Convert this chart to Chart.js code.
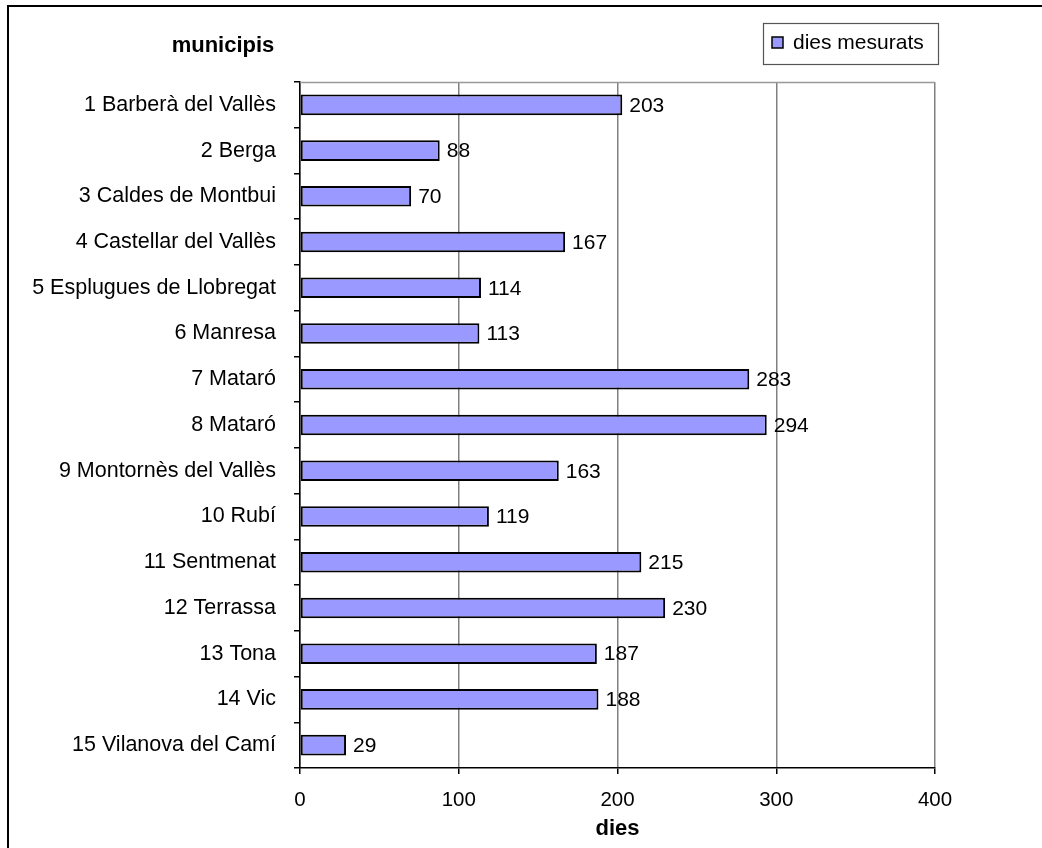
<!DOCTYPE html>
<html>
<head>
<meta charset="utf-8">
<script src="https://cdn.jsdelivr.net/npm/chart.js@4.4.0/dist/chart.umd.min.js"></script>
<style>
  html, body { margin: 0; padding: 0; background: #fff; overflow: hidden; }
  #wrap { position: relative; width: 1042px; height: 848px; }
  #frame { position: absolute; left: 7px; top: 5px; width: 2000px; height: 2000px;
           border-left: 2px solid #000; border-top: 2px solid #000; pointer-events: none; }
</style>
</head>
<body>
<div id="wrap">
  <canvas id="chart"></canvas>
  <div id="frame"></div>
</div>
<script>
// dades
const municipis = [
  '1 Barberà del Vallès', '2 Berga', '3 Caldes de Montbui', '4 Castellar del Vallès',
  '5 Esplugues de Llobregat', '6 Manresa', '7 Mataró', '8 Mataró',
  '9 Montornès del Vallès', '10 Rubí', '11 Sentmenat', '12 Terrassa',
  '13 Tona', '14 Vic', '15 Vilanova del Camí'
];
const diesMesurats = [203, 88, 70, 167, 114, 113, 283, 294, 163, 119, 215, 230, 187, 188, 29];
const xTicks = [0, 100, 200, 300, 400];
const serieLabel = 'dies mesurats';
const yTitle = 'municipis';
const xTitle = 'dies';

const BAR_COLOR = '#9999ff';
const FONT = "'Liberation Sans', Arial, sans-serif";
Chart.defaults.font.family = FONT;

/* ===== plugins ===== */
const extras = {
  id: 'extras',
  beforeDatasetsDraw(chart) {
    // top line of the plot area
    const { ctx, chartArea: a } = chart;
    ctx.save();
    ctx.strokeStyle = '#999';
    ctx.lineWidth = 1.5;
    ctx.beginPath();
    ctx.moveTo(a.left, a.top + 0.5);
    ctx.lineTo(a.right, a.top + 0.5);
    ctx.stroke();
    ctx.restore();
  },
  afterDraw(chart) {
    const { ctx, chartArea: a } = chart;
    ctx.save();
    // value labels
    ctx.fillStyle = '#000';
    ctx.font = '21px ' + FONT;
    ctx.textBaseline = 'middle';
    ctx.textAlign = 'left';
    const meta = chart.getDatasetMeta(0);
    meta.data.forEach((bar, i) => {
      ctx.fillText(String(diesMesurats[i]), bar.x + 7, bar.y + 1);
    });

    // category title on top of the labels
    ctx.font = 'bold 22px ' + FONT;
    ctx.textAlign = 'center';
    ctx.fillText(yTitle, a.left - 77, a.top - 36);

    // legend with frame
    const bx = a.right - 172, by = a.top - 59, bw = 175, bh = 41;
    ctx.fillStyle = '#fff';
    ctx.fillRect(bx, by, bw, bh);
    ctx.strokeStyle = '#555';
    ctx.lineWidth = 1.2;
    ctx.strokeRect(bx + 0.5, by + 0.5, bw, bh);
    ctx.fillStyle = BAR_COLOR;
    ctx.fillRect(bx + 9, by + 14, 11, 11);
    ctx.strokeStyle = '#000';
    ctx.lineWidth = 1.5;
    ctx.strokeRect(bx + 9, by + 14, 11, 11);
    ctx.fillStyle = '#000';
    ctx.font = '21px ' + FONT;
    ctx.textAlign = 'left';
    ctx.textBaseline = 'middle';
    ctx.fillText(serieLabel, bx + 30, by + 20);
    ctx.restore();
  }
};

new Chart(document.getElementById('chart'), {
  type: 'bar',
  data: {
    labels: municipis,
    datasets: [{
      label: serieLabel,
      data: diesMesurats,
      backgroundColor: BAR_COLOR,
      borderColor: '#000',
      borderWidth: 2,
      borderSkipped: false,
      categoryPercentage: 1,
      barPercentage: 0.45
    }]
  },
  options: {
    indexAxis: 'y',
    responsive: true,
    maintainAspectRatio: false,
    animation: false,
    layout: { padding: { top: 82, right: 107, bottom: 0, left: 0 } },
    plugins: { legend: { display: false }, tooltip: { enabled: false } },
    scales: {
      x: {
        min: 0,
        max: 400,
        afterBuildTicks: s => { s.ticks = xTicks.map(v => ({ value: v })); },
        ticks: { color: '#000', font: { size: 20.5 }, padding: 14, maxRotation: 0 },
        grid: { color: '#808080', lineWidth: 1.5, tickLength: 6, tickColor: '#000' },
        border: { color: '#000', width: 1.5 },
        title: { display: true, text: xTitle, color: '#000', font: { size: 22, weight: 'bold' }, padding: { top: 0, bottom: 6 } },
        afterFit: s => { s.height = 80; }
      },
      y: {
        grid: { drawOnChartArea: false, offset: true, tickLength: 6, color: '#000', lineWidth: 1.5 },
        border: { color: '#000', width: 1.5 },
        ticks: { color: '#000', font: { size: 21.5 }, padding: 18, autoSkip: false },
        afterFit: s => { s.width = 300; }
      }
    }
  },
  plugins: [extras]
});
</script>
</body>
</html>
